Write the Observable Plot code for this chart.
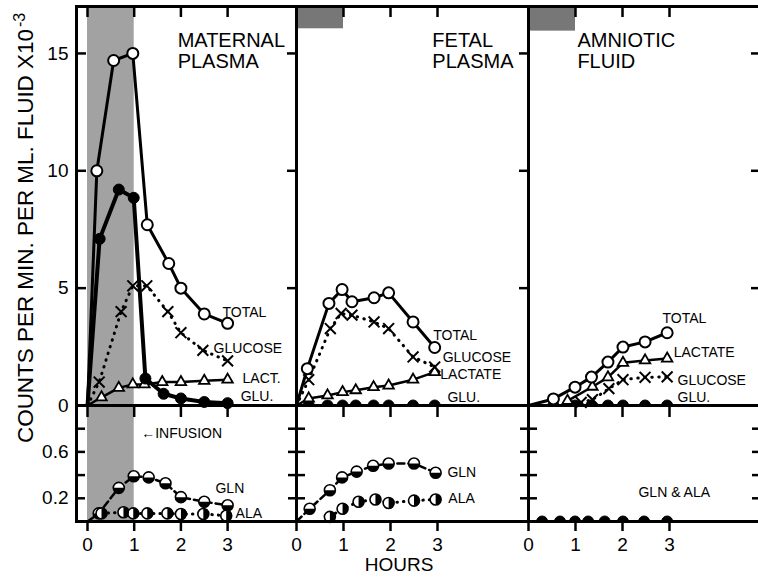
<!DOCTYPE html>
<html><head><meta charset="utf-8">
<script src="https://cdn.jsdelivr.net/npm/d3@7"></script>
<script src="https://cdn.jsdelivr.net/npm/@observablehq/plot@0.6"></script>
<style>
html,body{margin:0;padding:0;background:#fff;}
#root{position:relative;width:758px;height:577px;overflow:hidden;background:#fff;font-family:"Liberation Sans",Arial,sans-serif;}
#overlay{position:absolute;left:0;top:0;pointer-events:none;}
</style></head><body><div id="root"></div>
<script>
// ---------------- DATA ----------------
const hourTicks = [0, 1, 2, 3];
const topTicks = [0, 5, 10, 15];
const bottomTicks = [0.2, 0.4, 0.6, 0.8];
const bottomTickLabels = ["0.2", "0.6"];
const infusion = [{start: 0, end: 1}];
const infusionTab = [16.05, 17];
const topDomain = [0, 17];
const bottomDomain = [0, 1.0];

// Maternal plasma (counts x10^-3)
const matTotalX = [0, 0.2, 0.56, 0.97, 1.28, 1.74, 2.0, 2.5, 3.0];
const matTotalY = [0, 10.0, 14.7, 15.0, 7.7, 6.05, 5.0, 3.9, 3.5];
const matGlucoseX = [0, 0.25, 0.72, 0.97, 1.27, 1.72, 2.0, 2.47, 3.0];
const matGlucoseY = [0, 1.0, 4.0, 5.1, 5.1, 4.0, 3.1, 2.35, 1.9];
const matLactX = [0, 0.3, 0.67, 0.97, 1.22, 1.6, 2.0, 2.5, 3.0];
const matLactY = [0, 0.35, 0.75, 0.9, 0.9, 1.0, 1.0, 1.05, 1.1];
const matGluX = [0, 0.26, 0.67, 0.99, 1.24, 1.63, 2.0, 2.5, 3.0];
const matGluY = [0, 7.1, 9.2, 8.85, 1.15, 0.5, 0.3, 0.15, 0.1];
const matGlnX = [0, 0.24, 0.67, 0.99, 1.31, 1.67, 2.0, 2.5, 3.0];
const matGlnY = [0, 0.07, 0.29, 0.39, 0.38, 0.33, 0.21, 0.17, 0.14];
const matAlaX = [0.3, 0.77, 0.98, 1.28, 1.71, 2.0, 2.48, 2.97];
const matAlaY = [0.07, 0.08, 0.07, 0.07, 0.07, 0.065, 0.065, 0.05];

// Fetal plasma
const fetTotalX = [0, 0.23, 0.69, 0.97, 1.18, 1.65, 1.96, 2.48, 2.94];
const fetTotalY = [0, 1.57, 4.35, 4.94, 4.42, 4.59, 4.8, 3.56, 2.47];
const fetGlucoseX = [0, 0.26, 0.72, 0.95, 1.18, 1.65, 1.96, 2.48, 2.94];
const fetGlucoseY = [0, 1.1, 3.28, 3.92, 3.85, 3.56, 3.28, 2.07, 1.64];
const fetLactX = [0, 0.26, 0.66, 0.98, 1.26, 1.64, 1.96, 2.48, 2.94];
const fetLactY = [0, 0.3, 0.43, 0.57, 0.65, 0.78, 0.85, 1.1, 1.42];
const fetGluX = [0.26, 0.66, 0.98, 1.26, 1.64, 1.96, 2.48, 2.94];
const fetGluY = [0, 0, 0, 0, 0, 0, 0, 0];
const fetGlnX = [0, 0.28, 0.71, 0.97, 1.28, 1.63, 1.96, 2.5, 2.96];
const fetGlnY = [0, 0.11, 0.27, 0.38, 0.43, 0.48, 0.50, 0.50, 0.42];
const fetAlaX = [0.71, 0.98, 1.32, 1.68, 1.96, 2.5, 2.96];
const fetAlaY = [0.04, 0.11, 0.17, 0.19, 0.16, 0.18, 0.19];

// Amniotic fluid
const amnTotalX = [0, 0.53, 0.99, 1.34, 1.69, 2.01, 2.48, 2.95];
const amnTotalY = [0, 0.28, 0.78, 1.21, 1.85, 2.49, 2.71, 3.1];
const amnLactX = [0.83, 1.36, 1.69, 2.01, 2.48, 2.95];
const amnLactY = [0.2, 0.8, 1.2, 1.82, 1.92, 2.0];
const amnGlucoseX = [1.12, 1.36, 1.71, 2.01, 2.48, 2.95];
const amnGlucoseY = [0.13, 0.25, 0.72, 1.1, 1.2, 1.22];
const amnGluX = [0.53, 0.99, 1.34, 1.69, 2.01, 2.48, 2.95];
const amnGluY = [0, 0, 0, 0, 0, 0, 0];
const amnGlnAlaX = [0.29, 0.67, 0.99, 1.27, 1.62, 2.01, 2.46, 2.95];
const amnGlnAlaY = [0, 0, 0, 0, 0, 0, 0, 0];

// Text annotations (data coordinates)
const matTopLabels = [
  {text: "TOTAL", x: 2.89, y: 3.96}, {text: "GLUCOSE", x: 2.70, y: 2.43},
  {text: "LACT.", x: 3.32, y: 1.15}, {text: "GLU.", x: 3.28, y: 0.40}];
const matBottomLabels = [
  {text: "←INFUSION", x: 1.15, y: 0.76}, {text: "GLN", x: 2.74, y: 0.284}, {text: "ALA", x: 3.17, y: 0.069}];
const fetTopLabels = [
  {text: "TOTAL", x: 2.91, y: 2.98}, {text: "GLUCOSE", x: 3.11, y: 2.06},
  {text: "LACTATE", x: 3.06, y: 1.33}, {text: "GLU.", x: 3.21, y: 0.34}];
const fetBottomLabels = [{text: "GLN", x: 3.21, y: 0.42}, {text: "ALA", x: 3.23, y: 0.2}];
const amnTopLabels = [
  {text: "TOTAL", x: 2.85, y: 3.71}, {text: "LACTATE", x: 3.09, y: 2.26},
  {text: "GLUCOSE", x: 3.17, y: 1.07}, {text: "GLU.", x: 3.17, y: 0.34}];
const amnBottomLabels = [{text: "GLN & ALA", x: 2.34, y: 0.25}];
const titles = [
  {text: "MATERNAL\nPLASMA", x: 1.93, y: 15.89},
  {text: "FETAL\nPLASMA", x: 2.89, y: 15.89},
  {text: "AMNIOTIC\nFLUID", x: 1.04, y: 15.89}];

// ---------------- DRAWING ----------------
const FONT = "'Liberation Sans', Arial, sans-serif";
const SHADE = "#a2a2a2";
const halfBottom = {draw(ctx, size) { const r = Math.sqrt(size / Math.PI); ctx.moveTo(r, 0); ctx.arc(0, 0, r, 0, Math.PI); ctx.closePath(); }};
const halfRight = {draw(ctx, size) { const r = Math.sqrt(size / Math.PI); ctx.moveTo(0, -r); ctx.arc(0, 0, r, -Math.PI / 2, Math.PI / 2); ctx.closePath(); }};
const halfTop = {draw(ctx, size) { const r = Math.sqrt(size / Math.PI); ctx.moveTo(-r, 0); ctx.arc(0, 0, r, Math.PI, 2 * Math.PI); ctx.closePath(); }};

const STYLES = {
  total: {line: {strokeWidth: 3}, dots: [{symbol: "circle", r: 5.5, fill: "white", stroke: "black", strokeWidth: 2}]},
  glu: {line: {strokeWidth: 4}, dots: [{symbol: "circle", r: 5.5, fill: "black", stroke: "black", strokeWidth: 1}]},
  dome: {line: {strokeWidth: 2}, dots: [{symbol: halfTop, r: 5.5, fill: "black", stroke: "black", strokeWidth: 1}]},
  glucose: {line: {strokeWidth: 3, strokeDasharray: "0.5,6.5", strokeLinecap: "round"}, dots: [{symbol: "times", r: 5, stroke: "black", strokeWidth: 2}]},
  lact: {line: {strokeWidth: 2.5}, dots: [{symbol: "triangle2", r: 5, fill: "white", stroke: "black", strokeWidth: 1.8}]},
  gln: {line: {strokeWidth: 2.5, strokeDasharray: "7,4"}, dots: [{symbol: "circle", r: 5.5, fill: "white", stroke: "black", strokeWidth: 1.6}, {symbol: halfBottom, r: 5.5, fill: "black"}]},
  ala: {line: {strokeWidth: 3, strokeDasharray: "0.5,6", strokeLinecap: "round"}, dots: [{symbol: "circle", r: 5.5, fill: "white", stroke: "black", strokeWidth: 1.6}, {symbol: halfRight, r: 5.5, fill: "black"}]}
};

function series(xs, ys, kind, extra = {}) {
  const d = xs.map((x, i) => ({x, y: ys[i]}));
  const pts = d.filter(p => p.x > 0);
  const st = STYLES[kind];
  return [
    Plot.line(d, {x: "x", y: "y", stroke: "black", ...st.line, ...extra}),
    ...st.dots.map(o => Plot.dot(pts, {x: "x", y: "y", ...o, ...extra}))
  ];
}
function labels(arr, size = 14) {
  return Plot.text(arr, {x: "x", y: "y", text: "text", textAnchor: "start", lineAnchor: "middle", fontSize: size, fill: "black", fontFamily: FONT});
}
const blank = () => "";
function topAxes(first) {
  return [
    Plot.axisX({anchor: "top", ticks: hourTicks, tickSize: 10, insetTop: 10, tickFormat: blank, label: null, strokeWidth: 2.5}),
    Plot.axisY({anchor: "right", ticks: topTicks.slice(1), tickSize: 10, insetRight: 10, tickFormat: blank, label: null, strokeWidth: 2.5}),
    first
      ? Plot.axisY({anchor: "left", ticks: topTicks, tickSize: 10, insetLeft: 10, tickPadding: 8, fontSize: 19, label: null, strokeWidth: 2.5, fontFamily: FONT, tickFormat: d => `${d}`})
      : Plot.axisY({anchor: "left", ticks: [], tickFormat: blank, label: null})
  ];
}
function bottomAxes(first) {
  return [
    Plot.axisX({anchor: "top", ticks: hourTicks, tickSize: 11, insetTop: 11, tickFormat: blank, label: null, strokeWidth: 2.5}),
    Plot.axisX({anchor: "bottom", ticks: hourTicks, tickSize: 10, tickPadding: 6, fontSize: 19, label: null, strokeWidth: 2.5, fontFamily: FONT, tickFormat: d => `${d}`}),
    Plot.axisY({anchor: "right", ticks: bottomTicks, tickSize: 9, insetRight: 9, tickFormat: blank, label: null, strokeWidth: 2.5}),
    Plot.axisY({anchor: "left", ticks: bottomTicks, tickSize: 9, insetLeft: 9, tickPadding: 8, fontSize: 19, label: null, strokeWidth: 2.5, fontFamily: FONT,
      tickFormat: first ? (d => bottomTickLabels.find(s => +s === d) || "") : blank})
  ];
}

const root = document.getElementById("root");
function panel({left, top, width, height, x, y, marks}) {
  const m = {l: 70, r: 14, t: 12, b: 50};
  const svg = Plot.plot({
    width: width + m.l + m.r, height: height + m.t + m.b,
    marginLeft: m.l, marginRight: m.r, marginTop: m.t, marginBottom: m.b,
    x: {domain: x}, y: {domain: y},
    style: `background: transparent; overflow: visible; max-width: none; font-family: ${FONT}; color: black;`,
    marks
  });
  const div = document.createElement("div");
  div.style.cssText = `position:absolute;left:${left - m.l}px;top:${top - m.t}px;width:${width + m.l + m.r}px;`;
  div.appendChild(svg);
  root.appendChild(div);
}

const matX = [-0.2355, 4.475];
const fetX = [0, 4.936];
const amnX = [0, 4.936];
const titleText = t => Plot.text([t], {x: "x", y: "y", text: "text", textAnchor: "start", lineAnchor: "top", lineHeight: 1.05, fontSize: 20, fill: "black", fontFamily: FONT});

// Maternal top
panel({left: 76, top: 6, width: 220, height: 399, x: matX, y: topDomain, marks: [
  Plot.rect(infusion, {x1: "start", x2: "end", y1: topDomain[0], y2: topDomain[1], fill: SHADE}),
  ...series(matTotalX, matTotalY, "total"),
  ...series(matGlucoseX, matGlucoseY, "glucose"),
  ...series(matLactX, matLactY, "lact"),
  ...series(matGluX, matGluY, "glu"),
  labels(matTopLabels),
  titleText(titles[0]),
  ...topAxes(true),
  Plot.frame({stroke: "black", strokeWidth: 3})
]});
// Maternal bottom
panel({left: 76, top: 405, width: 220, height: 116, x: matX, y: bottomDomain, marks: [
  Plot.rect(infusion, {x1: "start", x2: "end", y1: bottomDomain[0], y2: bottomDomain[1], fill: SHADE}),
  ...series(matGlnX, matGlnY, "gln"),
  ...series(matAlaX, matAlaY, "ala"),
  labels(matBottomLabels),
  ...bottomAxes(true),
  Plot.frame({stroke: "black", strokeWidth: 3})
]});
// Fetal top
panel({left: 296, top: 6, width: 232, height: 399, x: fetX, y: topDomain, marks: [
  Plot.rect(infusion, {x1: "start", x2: "end", y1: infusionTab[0], y2: infusionTab[1], fill: "#777"}),
  ...series(fetGluX, fetGluY, "dome"),
  ...series(fetLactX, fetLactY, "lact"),
  ...series(fetGlucoseX, fetGlucoseY, "glucose"),
  ...series(fetTotalX, fetTotalY, "total"),
  labels(fetTopLabels),
  titleText(titles[1]),
  ...topAxes(false),
  Plot.frame({stroke: "black", strokeWidth: 3})
]});
// Fetal bottom
panel({left: 296, top: 405, width: 232, height: 116, x: fetX, y: bottomDomain, marks: [
  ...series(fetGlnX, fetGlnY, "gln"),
  ...series(fetAlaX, fetAlaY, "ala"),
  labels(fetBottomLabels),
  ...bottomAxes(false),
  Plot.frame({stroke: "black", strokeWidth: 3})
]});
// Amniotic top
panel({left: 528, top: 6, width: 232, height: 399, x: amnX, y: topDomain, marks: [
  Plot.rect(infusion, {x1: "start", x2: "end", y1: infusionTab[0] - 0.1, y2: infusionTab[1], fill: "#777"}),
  ...series(amnGluX, amnGluY, "dome"),
  ...series(amnGlucoseX, amnGlucoseY, "glucose"),
  ...series(amnLactX, amnLactY, "lact"),
  ...series(amnTotalX, amnTotalY, "total"),
  labels(amnTopLabels),
  titleText(titles[2]),
  ...topAxes(false),
  Plot.frame({stroke: "black", strokeWidth: 3})
]});
// Amniotic bottom
panel({left: 528, top: 405, width: 232, height: 116, x: amnX, y: bottomDomain, marks: [
  ...series(amnGlnAlaX, amnGlnAlaY, "dome"),
  labels(amnBottomLabels),
  ...bottomAxes(false),
  Plot.frame({stroke: "black", strokeWidth: 3})
]});

// Overlay texts: y axis title and x axis title
const NS = "http://www.w3.org/2000/svg";
const ov = document.createElementNS(NS, "svg");
ov.setAttribute("id", "overlay"); ov.setAttribute("width", 758); ov.setAttribute("height", 577);
ov.innerHTML = `
<text transform="translate(33,443) rotate(-90)" font-family="Liberation Sans, Arial, sans-serif" font-size="22" fill="black" textLength="414" lengthAdjust="spacingAndGlyphs">COUNTS PER MIN. PER ML. FLUID X10</text>
<text transform="translate(25,27) rotate(-90)" font-family="Liberation Sans, Arial, sans-serif" font-size="16" fill="black">-3</text>
<text x="399" y="571" text-anchor="middle" font-family="Liberation Sans, Arial, sans-serif" font-size="19" fill="black">HOURS</text>`;
root.appendChild(ov);
</script>
</body></html>
